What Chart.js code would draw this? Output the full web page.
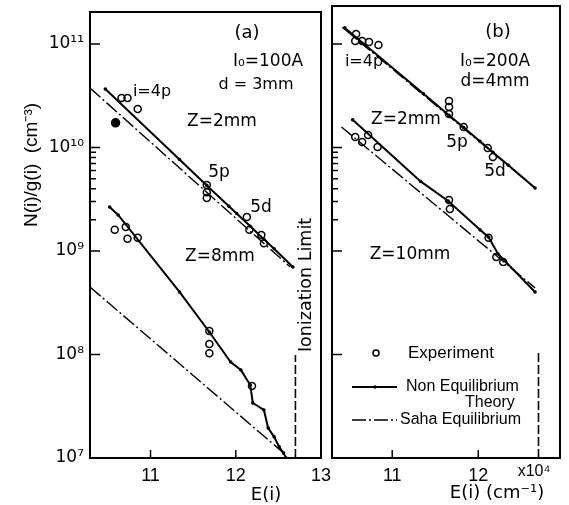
<!DOCTYPE html>
<html>
<head>
<meta charset="utf-8">
<script src="https://cdn.jsdelivr.net/npm/chart.js@4/dist/chart.umd.min.js"></script>
<style>
  html, body { margin: 0; padding: 0; background: #fff; }
  #wrap { position: relative; width: 569px; height: 505px; }
  canvas { position: absolute; top: 0; }
  #chartA { left: 0; }
  #chartB { left: 326px; }
</style>
</head>
<body>
<div id="wrap">
  <canvas id="chartA" width="331" height="505"></canvas>
  <canvas id="chartB" width="243" height="505"></canvas>
</div>
<script>
// energies in 10^4 cm^-1, populations N(i)/g(i) in cm^-3
const IONIZATION_E = 12.70;
const yMajorTicks = [1e7, 1e8, 1e9, 1e10, 1e11];
const yMinorTicks = [2e9, 3e9, 4e9, 5e9, 6e9, 7e9, 8e9, 9e9];
const xTicksA = [11, 12, 13];
const xTicksB = [11, 12];

// panel (a): I0 = 100 A, d = 3 mm
const aZ2ExpE = [10.66, 10.73, 10.85, 11.66, 11.66, 11.66, 12.13, 12.16, 12.30, 12.33];
const aZ2ExpN = [3.0e10, 3.0e10, 2.36e10, 4.35e9, 3.7e9, 3.25e9, 2.13e9, 1.6e9, 1.43e9, 1.19e9];
const aZ2FilledE = [10.59];
const aZ2FilledN = [1.73e10];
const aZ2NonEqE = [10.47, 11.34, 11.66, 11.92, 12.01, 12.17, 12.33, 12.45, 12.67];
const aZ2NonEqN = [3.67e10, 7.65e9, 4.3e9, 2.7e9, 2.3e9, 1.73e9, 1.3e9, 1.05e9, 7.0e8];
const aZ2SahaE = [10.29, 12.64];
const aZ2SahaN = [3.76e10, 7.0e8];

const aZ8ExpE = [10.58, 10.71, 10.73, 10.85, 11.69, 11.69, 11.69, 12.19];
const aZ8ExpN = [1.6e9, 1.71e9, 1.31e9, 1.34e9, 1.69e8, 1.26e8, 1.03e8, 4.97e7];
const aZ8NonEqE = [10.52, 10.62, 11.34, 11.69, 11.94, 12.06, 12.17, 12.20, 12.33, 12.38, 12.45, 12.51, 12.56, 12.59];
const aZ8NonEqN = [2.66e9, 2.23e9, 4.02e8, 1.65e8, 8.47e7, 7.08e7, 5.07e7, 3.4e7, 2.91e7, 1.95e7, 1.6e7, 1.28e7, 1.12e7, 1.0e7];
const aZ8SahaE = [10.29, 12.56];
const aZ8SahaN = [4.49e8, 1.12e7];
const aIonTop = 9.9e7;

// panel (b): I0 = 200 A, d = 4 mm
const bZ2ExpE = [10.58, 10.57, 10.65, 10.73, 10.84, 11.66, 11.66, 11.66, 11.83, 12.11, 12.17];
const bZ2ExpN = [1.25e11, 1.07e11, 1.07e11, 1.045e11, 9.77e10, 2.81e10, 2.46e10, 2.11e10, 1.58e10, 9.9e9, 8.1e9];
const bZ2NonEqE = [10.45, 11.36, 11.66, 11.83, 12.02, 12.17, 12.35, 12.66];
const bZ2NonEqN = [1.43e11, 3.32e10, 2.05e10, 1.56e10, 1.15e10, 9.0e9, 6.73e9, 4.06e9];
const bZ2SahaE = [10.42, 12.66];
const bZ2SahaN = [1.45e11, 4.06e9];

const bZ10ExpE = [10.57, 10.65, 10.72, 10.83, 11.66, 11.67, 12.12, 12.21, 12.29];
const bZ10ExpN = [1.26e10, 1.13e10, 1.32e10, 1.01e10, 3.11e9, 2.55e9, 1.34e9, 8.75e8, 7.83e8];
const bZ10NonEqE = [10.54, 11.33, 11.65, 12.02, 12.12, 12.23, 12.66];
const bZ10NonEqN = [1.85e10, 4.7e9, 3.04e9, 1.6e9, 1.36e9, 9.35e8, 4.02e8];
const bZ10SahaE = [10.41, 12.66];
const bZ10SahaN = [1.58e10, 4.4e8];
const bIonTop = 1.1e8;

const SANS = '"Liberation Sans", Arial, sans-serif';
const DEJA = '"DejaVu Sans", sans-serif';
const SUP = {'0':'⁰','1':'¹','2':'²','3':'³','4':'⁴','5':'⁵','6':'⁶','7':'⁷','8':'⁸','9':'⁹'};

function pts(xs, ys) {
  return xs.map((x, i) => ({x: x, y: ys[i]}));
}

function expSet(xs, ys, filled) {
  return {
    data: pts(xs, ys), showLine: false,
    pointRadius: filled ? 4 : 3.5, pointBorderWidth: 1.5,
    pointBorderColor: '#000',
    pointBackgroundColor: filled ? '#000' : 'rgba(0,0,0,0)'
  };
}
function nonEqSet(xs, ys) {
  return {
    data: pts(xs, ys), showLine: true, borderColor: '#000', borderWidth: 2,
    pointRadius: 1.8, pointBorderWidth: 0, pointBackgroundColor: '#000'
  };
}
function sahaSet(xs, ys) {
  return {
    data: pts(xs, ys), showLine: true, borderColor: '#000', borderWidth: 1.4,
    borderDash: [14, 3, 2, 3], pointRadius: 0
  };
}
function ionSet(top) {
  return {
    data: [{x: IONIZATION_E, y: 1e7}, {x: IONIZATION_E, y: top}],
    showLine: true, borderColor: '#000', borderWidth: 1.6,
    borderDash: [9, 3], pointRadius: 0
  };
}

// frame, inward ticks, labels and legend
function makeDeco(cfg) {
  return {
    id: 'deco',
    afterDraw(chart) {
      const {ctx, chartArea: a, scales: {x, y}} = chart;
      ctx.save();
      ctx.strokeStyle = '#000';
      ctx.lineWidth = 2;
      ctx.strokeRect(a.left, a.top, a.right - a.left, a.bottom - a.top);
      ctx.lineWidth = 1.5;
      ctx.beginPath();
      yMajorTicks.forEach(v => {
        const py = y.getPixelForValue(v);
        ctx.moveTo(a.left, py); ctx.lineTo(a.left + 10, py);
      });
      yMinorTicks.forEach(v => {
        const py = y.getPixelForValue(v);
        ctx.moveTo(a.left, py); ctx.lineTo(a.left + 6, py);
      });
      cfg.xTicks.forEach(v => {
        const px = x.getPixelForValue(v);
        if (px < a.right - 2) { ctx.moveTo(px, a.bottom); ctx.lineTo(px, a.bottom - 8); }
      });
      ctx.stroke();

      ctx.fillStyle = '#000';
      ctx.textBaseline = 'middle';
      cfg.texts.forEach(t => {
        ctx.save();
        ctx.font = t.size + 'px ' + (t.font || DEJA);
        ctx.textAlign = t.align || 'center';
        ctx.translate(t.x - cfg.offsetX, t.y);
        if (t.rot) ctx.rotate(t.rot);
        ctx.fillText(t.text, 0, 0);
        ctx.restore();
      });

      if (cfg.legend) {
        const ox = cfg.offsetX;
        ctx.lineWidth = 1.5;
        ctx.beginPath();
        ctx.arc(376 - ox, 353, 3, 0, Math.PI * 2);
        ctx.stroke();
        ctx.lineWidth = 2;
        ctx.beginPath();
        ctx.moveTo(352 - ox, 387); ctx.lineTo(397 - ox, 387);
        ctx.stroke();
        ctx.beginPath();
        ctx.arc(375 - ox, 387, 1.8, 0, Math.PI * 2);
        ctx.fill();
        ctx.lineWidth = 1.4;
        ctx.setLineDash([14, 3, 2, 3]);
        ctx.beginPath();
        ctx.moveTo(352 - ox, 420); ctx.lineTo(397 - ox, 420);
        ctx.stroke();
        ctx.setLineDash([]);
      }
      ctx.restore();
    }
  };
}

function logLabel(v) {
  const e = Math.round(Math.log10(v));
  return '10' + String(e).split('').map(c => SUP[c]).join('');
}

function makeOptions(p) {
  return {
    responsive: false, animation: false, devicePixelRatio: 1,
    layout: {padding: {top: p.top, right: p.right, left: 0, bottom: 0}},
    plugins: {legend: {display: false}, tooltip: {enabled: false}},
    scales: {
      x: {
        type: 'linear', min: p.xMin, max: p.xMax,
        afterBuildTicks: s => { s.ticks = p.xTicks.map(v => ({value: v})); },
        afterFit: s => { s.height = 47; s.paddingLeft = 0; s.paddingRight = 0; },
        grid: {display: false, drawTicks: false},
        border: {display: false},
        ticks: {
          color: '#000', padding: 7, maxRotation: 0,
          font: {family: SANS, size: 18},
          callback: v => String(v)
        }
      },
      y: {
        type: 'logarithmic', min: 1e7, max: p.yMax,
        afterBuildTicks: s => { s.ticks = yMajorTicks.map(v => ({value: v})); },
        afterFit: s => { s.width = p.axisWidth; s.paddingTop = 0; s.paddingBottom = 0; },
        grid: {display: false, drawTicks: false},
        border: {display: false},
        ticks: {
          display: p.yLabels, color: '#000', padding: 6,
          font: {family: DEJA, size: 17},
          callback: v => logLabel(v)
        }
      }
    }
  };
}

const textsA = [
  {x: 247, y: 33, text: '(a)', size: 18},
  {x: 268, y: 62, text: 'I₀=100A', size: 17},
  {x: 256, y: 85, text: 'd = 3mm', size: 16},
  {x: 152, y: 92, text: 'i=4p', size: 16},
  {x: 222, y: 122, text: 'Z=2mm', size: 17},
  {x: 219, y: 173, text: '5p', size: 17},
  {x: 261, y: 208, text: '5d', size: 17},
  {x: 220, y: 257, text: 'Z=8mm', size: 17},
  {x: 306, y: 285, text: 'Ionization Limit', size: 17.5, rot: -Math.PI / 2},
  {x: 32, y: 165, text: 'N(i)/g(i)  (cm⁻³)', size: 19, rot: -Math.PI / 2, font: SANS},
  {x: 266, y: 495, text: 'E(i)', size: 18}
];

const textsB = [
  {x: 498, y: 32, text: '(b)', size: 18},
  {x: 495, y: 62, text: 'I₀=200A', size: 17},
  {x: 495, y: 82, text: 'd=4mm', size: 17},
  {x: 364, y: 62, text: 'i=4p', size: 16},
  {x: 406, y: 120, text: 'Z=2mm', size: 17},
  {x: 457, y: 143, text: '5p', size: 17},
  {x: 495, y: 172, text: '5d', size: 17},
  {x: 410, y: 255, text: 'Z=10mm', size: 17},
  {x: 534, y: 472, text: 'x10⁴', size: 16, font: SANS},
  {x: 497, y: 493, text: 'E(i) (cm⁻¹)', size: 18},
  {x: 408, y: 353, text: 'Experiment', size: 17, align: 'left', font: SANS},
  {x: 406, y: 387, text: 'Non Equilibrium', size: 16, align: 'left', font: SANS},
  {x: 465, y: 403, text: 'Theory', size: 16, align: 'left', font: SANS},
  {x: 400, y: 420, text: 'Saha Equilibrium', size: 16, align: 'left', font: SANS}
];

new Chart(document.getElementById('chartA'), {
  type: 'scatter',
  data: {
    datasets: [
      sahaSet(aZ2SahaE, aZ2SahaN),
      nonEqSet(aZ2NonEqE, aZ2NonEqN),
      expSet(aZ2ExpE, aZ2ExpN, false),
      expSet(aZ2FilledE, aZ2FilledN, true),
      sahaSet(aZ8SahaE, aZ8SahaN),
      nonEqSet(aZ8NonEqE, aZ8NonEqN),
      expSet(aZ8ExpE, aZ8ExpN, false),
      ionSet(aIonTop)
    ]
  },
  options: makeOptions({top: 12, right: 10, xMin: 10.29, xMax: 13.0, xTicks: xTicksA,
                        yMax: Math.pow(10, 11.309), axisWidth: 90, yLabels: true}),
  plugins: [makeDeco({xTicks: xTicksA, texts: textsA, offsetX: 0, legend: false})]
});

new Chart(document.getElementById('chartB'), {
  type: 'scatter',
  data: {
    datasets: [
      sahaSet(bZ2SahaE, bZ2SahaN),
      nonEqSet(bZ2NonEqE, bZ2NonEqN),
      expSet(bZ2ExpE, bZ2ExpN, false),
      sahaSet(bZ10SahaE, bZ10SahaN),
      nonEqSet(bZ10NonEqE, bZ10NonEqN),
      expSet(bZ10ExpE, bZ10ExpN, false),
      ionSet(bIonTop)
    ]
  },
  options: makeOptions({top: 6, right: 9, xMin: 10.30, xMax: 12.95, xTicks: xTicksB,
                        yMax: Math.pow(10, 11.367), axisWidth: 6, yLabels: false}),
  plugins: [makeDeco({xTicks: xTicksB, texts: textsB, offsetX: 326, legend: true})]
});
</script>
</body>
</html>
